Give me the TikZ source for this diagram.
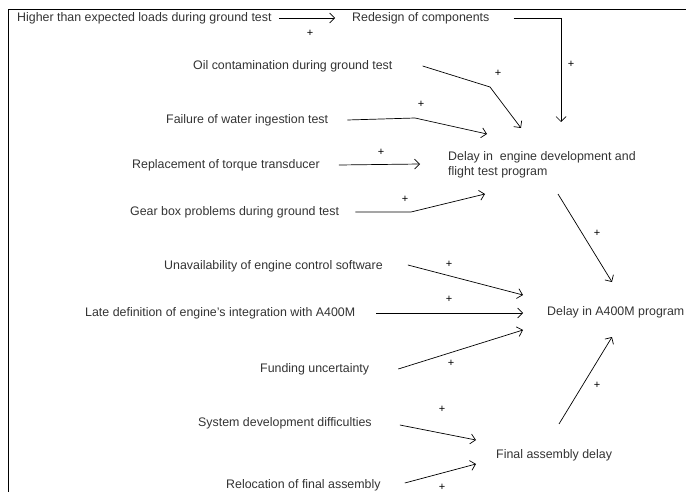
\documentclass[tikz,border=0pt]{standalone}
\usepackage{fontspec}
\setmainfont{Liberation Sans}
\usetikzlibrary{arrows.meta,positioning,calc}
\tikzset{
	factor/.style={anchor=west, inner sep=0pt, text=black!80, font=\fontsize{12.4}{15}\selectfont},
	sign/.style={inner sep=0pt, font=\fontsize{11}{12}\selectfont},
	link/.style={-{Straight Barb[length=5pt,width=10pt]}, line width=0.7pt},
	frameline/.style={line width=0.9pt}
}

\begin{document}
\begin{tikzpicture}[x=1pt,y=-1pt]
\useasboundingbox (0,0) rectangle (686,492);
\draw[frameline] (686,9) -- (8,9) -- (8,492);

% causes and effects
\node[factor] (Loads) at (17,18) {Higher than expected loads during ground test};
\node[factor] (Redesign) at (352,18) {Redesign of components};
\node[factor] (Oil) at (193,66) {Oil contamination during ground test};
\node[factor] (Water) at (166,120) {Failure of water ingestion test};
\node[factor] (Torque) at (132,165) {Replacement of torque transducer};
\node[factor, align=left] (Engine) at (448,164.5) {Delay in\ \ engine development and\\flight test program};
\node[factor] (Gear) at (130,212) {Gear box problems during ground test};
\node[factor] (Software) at (164,266) {Unavailability of engine control software};
\node[factor] (Integr) at (85,313) {Late definition of engine's integration with A400M};
\node[factor] (Program) at (547,312) {Delay in A400M program};
\node[factor] (Funding) at (260,369) {Funding uncertainty};
\node[factor] (SysDev) at (198,423) {System development difficulties};
\node[factor] (Assembly) at (496,455) {Final assembly delay};
\node[factor] (Reloc) at (226,485) {Relocation of final assembly};

% arrow ends
\coordinate (E1) at (335,18);
\coordinate (E2) at (561,122);
\coordinate (E3) at (521,128);
\coordinate (E4) at (487,134);
\coordinate (E5) at (420,164);
\coordinate (E6) at (485,194);
\coordinate (P1) at (558,194);
\coordinate (P2) at (559,424);
\coordinate (E8) at (523,295);
\coordinate (E9) at (523,313);
\coordinate (E10) at (523,330);
\coordinate (E11) at (476,440);
\coordinate (E12) at (476,464);

\draw[link] ([xshift=7pt]Loads.east) -- (E1);
\draw[link] ([xshift=24pt]Redesign.east) -| (E2);
\draw[link] ([xshift=30pt]Oil.east) -- (490,87) -- (E3);
\draw[link] ([xshift=19pt]Water.east) -- (415,118) -- (E4);
\draw[link] ([xshift=19pt]Torque.east) -- (E5);
\draw[link] ([xshift=16pt]Gear.east) -- (411,212) -- (E6);
\draw[link] (P1) -- (612,282);
\draw[link] ([xshift=25pt,yshift=1pt]Software.east) -- (E8);
\draw[link] ([xshift=21pt]Integr.east) -- (E9);
\draw[link] ([xshift=29pt]Funding.east) -- (E10);
\draw[link] (P2) -- (612,337);
\draw[link] ([xshift=28pt,yshift=-2pt]SysDev.east) -- (E11);
\draw[link] ([xshift=24pt,yshift=2pt]Reloc.east) -- (E12);

% polarity signs
\node[sign] at (310,33) {+};
\node[sign] at (571,64) {+};
\node[sign] at (498,73) {+};
\node[sign] at (421,104) {+};
\node[sign] at (381,152) {+};
\node[sign] at (405,199) {+};
\node[sign] at (597,233) {+};
\node[sign] at (449,264) {+};
\node[sign] at (449,299) {+};
\node[sign] at (451,363) {+};
\node[sign] at (597,385) {+};
\node[sign] at (442,409) {+};
\node[sign] at (442,487) {+};
\end{tikzpicture}
\end{document}
